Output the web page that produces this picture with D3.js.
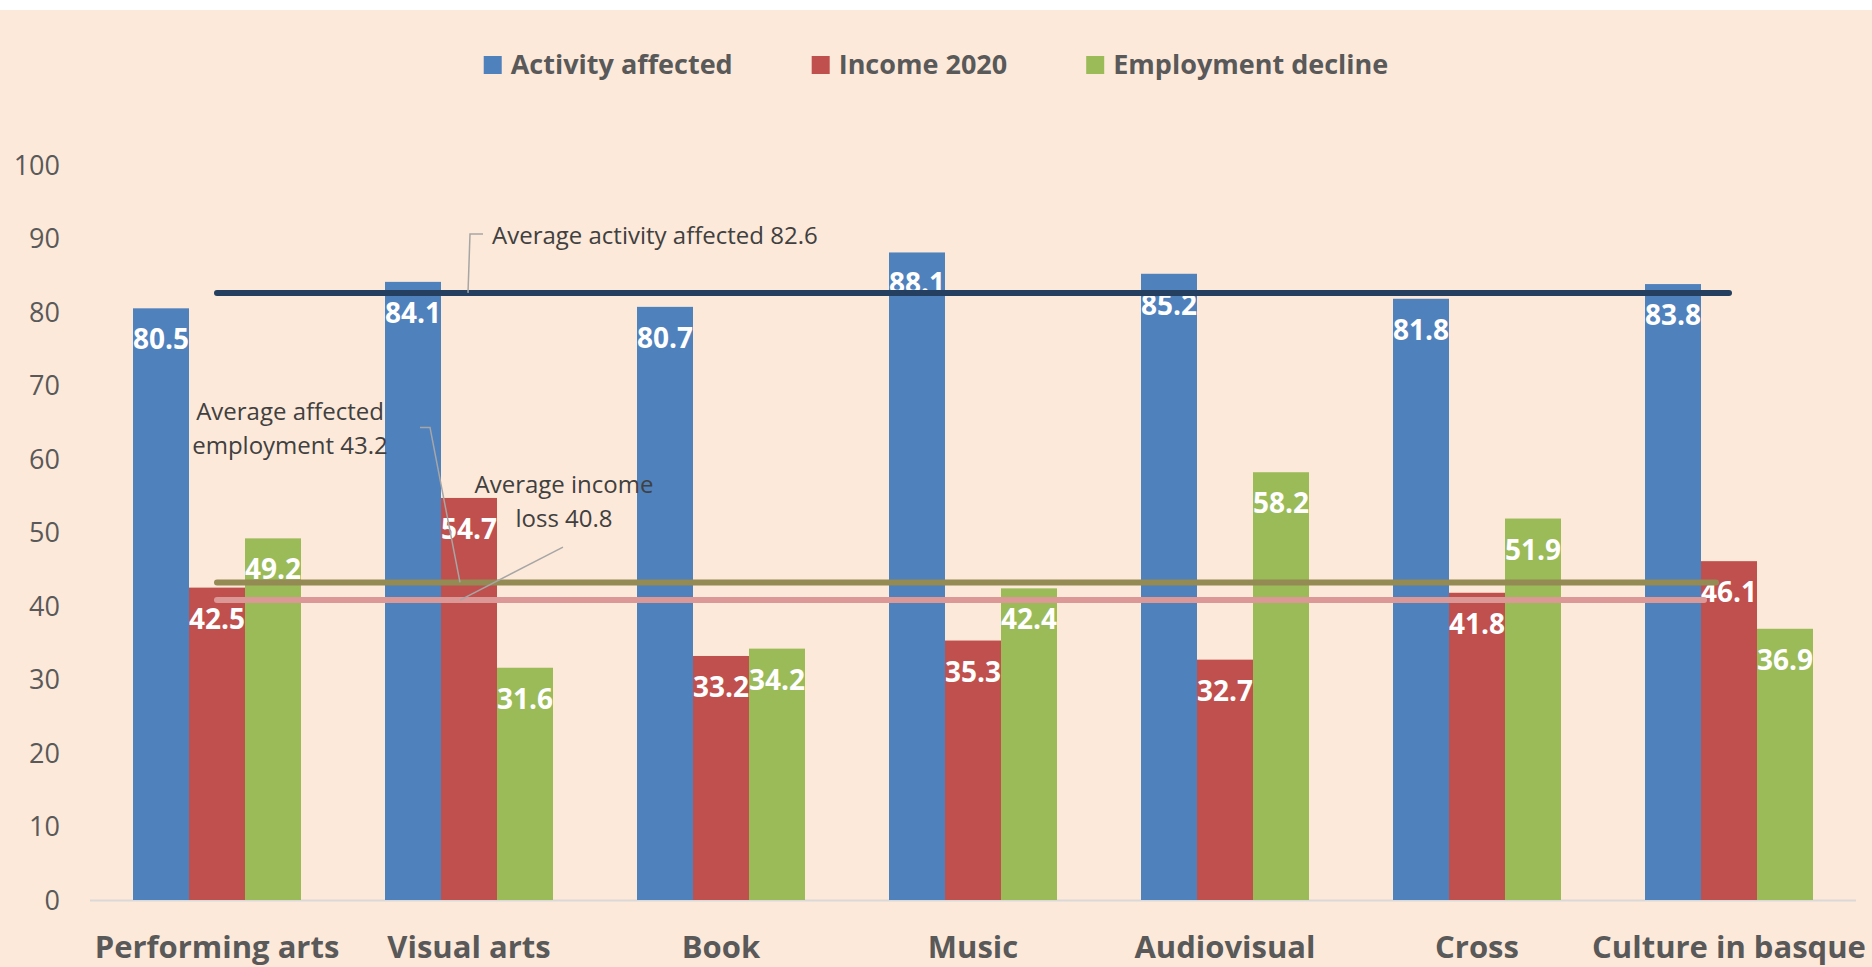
<!DOCTYPE html>
<html>
<head>
<meta charset="utf-8">
<script src="https://cdn.jsdelivr.net/npm/d3@7"></script>
<style>
  html, body { margin: 0; padding: 0; background: #ffffff; }
  svg { display: block; }
</style>
</head>
<body>
<script>
// Chart data
const categories = ["Performing arts", "Visual arts", "Book", "Music", "Audiovisual", "Cross", "Culture in basque"];
const seriesNames = ["Activity affected", "Income 2020", "Employment decline"];
const activityAffected = [80.5, 84.1, 80.7, 88.1, 85.2, 81.8, 83.8];
const income2020 = [42.5, 54.7, 33.2, 35.3, 32.7, 41.8, 46.1];
const employmentDecline = [49.2, 31.6, 34.2, 42.4, 58.2, 51.9, 36.9];
const averageValues = [82.6, 43.2, 40.8];
const averageLabels = [
    ["Average activity affected 82.6"],
    ["Average affected", "employment 43.2"],
    ["Average income", "loss 40.8"]
];
const yTickValues = [0, 10, 20, 30, 40, 50, 60, 70, 80, 90, 100];

let width = 1872;
let height = 967;
let colors = ["#4f81bd", "#c0504d", "#9bbb59"];
let lineColors = ["#243f60", "#948a54", "#dc9896"];
let font = "'Open Sans', sans-serif";

let seriesValues = [activityAffected, income2020, employmentDecline];
let rows = categories.map((c, i) => ({
    category: c,
    values: seriesNames.map((s, j) => ({ key: s, value: seriesValues[j][i], color: colors[j] }))
}));

let svg = d3.select("body")
    .append("svg")
    .attr("width", width)
    .attr("height", height);

// Peach background below a thin white strip
svg.append("rect")
    .attr("x", 0)
    .attr("y", 10)
    .attr("width", width)
    .attr("height", height - 10)
    .attr("fill", "#fde9d9");

// Scales
let x0 = d3.scaleBand()
    .domain(categories)
    .range([91, 1855])
    .paddingInner(1 / 3)
    .paddingOuter(1 / 6);

let x1 = d3.scaleBand()
    .domain(seriesNames)
    .range([0, x0.bandwidth()]);

let y = d3.scaleLinear()
    .domain([0, 100])
    .range([900, 165]);

let center = c => x0(c) + x0.bandwidth() / 2;

// Y axis labels
svg.append("g")
    .selectAll("text")
    .data(yTickValues)
    .enter()
    .append("text")
    .attr("x", 60)
    .attr("y", d => y(d))
    .attr("dy", "0.36em")
    .attr("text-anchor", "end")
    .style("font-family", font)
    .style("font-size", "27px")
    .style("fill", "#595959")
    .text(d => d);

// Baseline
svg.append("line")
    .attr("x1", 90)
    .attr("x2", 1856)
    .attr("y1", y(0) + 0.5)
    .attr("y2", y(0) + 0.5)
    .attr("stroke", "#d9d9d9")
    .attr("stroke-width", 2);

// Bars
let groups = svg.append("g")
    .attr("class", "bars")
    .selectAll(".group")
    .data(rows)
    .enter()
    .append("g")
    .attr("class", "group")
    .attr("transform", d => `translate(${x0(d.category)},0)`);

groups.selectAll("rect")
    .data(d => d.values)
    .enter()
    .append("rect")
    .attr("x", d => x1(d.key))
    .attr("width", x1.bandwidth())
    .attr("y", d => y(d.value))
    .attr("height", d => y(0) - y(d.value))
    .attr("fill", d => d.color);

// Category labels
svg.append("g")
    .selectAll("text")
    .data(categories)
    .enter()
    .append("text")
    .attr("x", d => center(d))
    .attr("y", 958)
    .attr("text-anchor", "middle")
    .style("font-family", font)
    .style("font-size", "31px")
    .style("font-weight", "bold")
    .style("fill", "#595959")
    .text(d => d);

// Average lines (drawn over the bars)
let first = center(categories[0]);
let last = center(categories[categories.length - 1]);
let lineEnds = [last, last - 13, last - 25];

svg.append("g")
    .selectAll("line")
    .data(averageValues)
    .enter()
    .append("line")
    .attr("x1", first)
    .attr("x2", (d, i) => lineEnds[i])
    .attr("y1", d => y(d))
    .attr("y2", d => y(d))
    .attr("stroke", (d, i) => lineColors[i])
    .attr("stroke-width", 6)
    .attr("stroke-linecap", "round");

// Bar value labels
groups.selectAll(".value")
    .data(d => d.values)
    .enter()
    .append("text")
    .attr("class", "value")
    .attr("x", d => x1(d.key) + x1.bandwidth() / 2)
    .attr("y", d => y(d.value) + 41)
    .attr("text-anchor", "middle")
    .style("font-family", font)
    .style("font-size", "28px")
    .style("font-weight", "bold")
    .style("fill", "#ffffff")
    .text(d => d.value.toFixed(1));

// Annotations with leader lines
let cv = center(categories[1]);
let leaders = [
    [[cv + 14, y(averageValues[0]) - 59], [cv + 1, y(averageValues[0]) - 59], [cv - 1, y(averageValues[0])]],
    [[cv - 49, y(averageValues[1]) - 155], [cv - 39, y(averageValues[1]) - 155], [cv - 9, y(averageValues[1])]],
    [[cv + 94, y(averageValues[2]) - 53], [cv - 9, y(averageValues[2])]]
];

svg.append("g")
    .selectAll("path")
    .data(leaders)
    .enter()
    .append("path")
    .attr("d", d => d3.line()(d))
    .attr("fill", "none")
    .attr("stroke", "#a6a6a6")
    .attr("stroke-width", 1.5);

let notePlaces = [
    { x: cv + 23, y: y(averageValues[0]) - 49, anchor: "start" },
    { x: cv - 179, y: y(averageValues[1]) - 162, anchor: "middle" },
    { x: cv + 95, y: y(averageValues[2]) - 107, anchor: "middle" }
];

let notes = svg.append("g")
    .selectAll("text")
    .data(averageLabels)
    .enter()
    .append("text")
    .attr("x", (d, i) => notePlaces[i].x)
    .attr("y", (d, i) => notePlaces[i].y)
    .attr("text-anchor", (d, i) => notePlaces[i].anchor)
    .style("font-family", font)
    .style("font-size", "24px")
    .style("fill", "#404040");

notes.selectAll("tspan")
    .data((d, i) => d.map(t => ({ t, x: notePlaces[i].x })))
    .enter()
    .append("tspan")
    .attr("x", d => d.x)
    .attr("dy", (d, i) => i === 0 ? 0 : 34)
    .text(d => d.t);

// Legend, centered on the chart
let legend = svg.append("g").attr("class", "legend");
let items = legend.selectAll(".item")
    .data(seriesNames)
    .enter()
    .append("g")
    .attr("class", "item");

items.append("rect")
    .attr("y", 56)
    .attr("width", 18)
    .attr("height", 18)
    .attr("fill", (d, i) => colors[i]);

items.append("text")
    .attr("x", 27)
    .attr("y", 74)
    .style("font-family", font)
    .style("font-size", "27px")
    .style("font-weight", "bold")
    .style("fill", "#595959")
    .text(d => d);

let widths = [];
items.each(function () { widths.push(27 + d3.select(this).select("text").node().getComputedTextLength()); });
let gap = 79;
let total = d3.sum(widths) + gap * (widths.length - 1);
let pos = width / 2 - total / 2;
items.attr("transform", (d, i) => {
    let t = `translate(${pos},0)`;
    pos += widths[i] + gap;
    return t;
});
</script>
</body>
</html>
